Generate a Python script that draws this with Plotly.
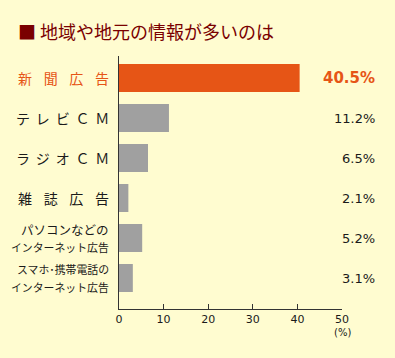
import plotly.graph_objects as go

categories = ["新\u2002\u2004聞\u2002\u2004広\u2002\u2004告",
              "テ\u2005\u2006レ\u2005\u2006ビ\u2005\u2006Ｃ\u2005\u2006Ｍ",
              "ラ\u2005\u2006ジ\u2005\u2006オ\u2005\u2006Ｃ\u2005\u2006Ｍ",
              "雑\u2002\u2004誌\u2002\u2004広\u2002\u2004告",
              "パソコンなどの<br>インターネット広告",
              "スマホ･携帯電話の<br>インターネット広告"]
values = [40.5, 11.2, 6.5, 2.1, 5.2, 3.1]
value_labels = ["40.5%", "11.2%", "6.5%", "2.1%", "5.2%", "3.1%"]
tick_vals = [0, 10, 20, 30, 40, 50]
title_text = "■ 地域や地元の情報が多いのは"

ORANGE = "#E65516"
GRAY = "#A0A0A0"
BG = "#FFFCD0"
FONT = "Noto Sans CJK JP"
NUMFONT = "DejaVu Sans"

ypos = list(range(len(categories)))
colors = [ORANGE] + [GRAY] * (len(categories) - 1)

fig = go.Figure()
fig.add_trace(go.Bar(
    x=values, y=ypos, orientation="h",
    marker=dict(color=colors, line=dict(width=0)),
    width=0.7, hoverinfo="skip",
))

annotations = []
for i, (cat, vl) in enumerate(zip(categories, value_labels)):
    color = ORANGE if i == 0 else "#1a1a1a"
    lines = cat.split("<br>")
    if len(lines) == 1:
        annotations.append(dict(
            x=0, y=i, xref="paper", yref="y", text=cat, showarrow=False,
            xanchor="right", yanchor="middle", xshift=-8,
            font=dict(family=FONT, size=14, color=color),
        ))
    else:
        for j, ln in enumerate(lines):
            annotations.append(dict(
                x=0, y=i, xref="paper", yref="y", text=ln, showarrow=False,
                xanchor="right", yanchor="middle", xshift=-8,
                yshift=9 - 18 * j,
                font=dict(family=FONT, size=min(12.5, 98.0 / len(ln)), color=color),
            ))
    annotations.append(dict(
        x=1, y=i, xref="paper", yref="y", text=("<b>%s</b>" % vl) if i == 0 else vl,
        showarrow=False, xanchor="right", yanchor="middle", xshift=35,
        font=dict(family=NUMFONT, size=15 if i == 0 else 13, color=color),
    ))
annotations.append(dict(
    x=50, y=0, xref="x", yref="paper", text="(%)", showarrow=False,
    xanchor="center", yanchor="top", yshift=-16,
    font=dict(family=NUMFONT, size=10, color="#1a1a1a"),
))
annotations.append(dict(
    x=0, y=1, xref="paper", yref="paper", xanchor="left", yanchor="middle",
    text=title_text, showarrow=False, xshift=-103, yshift=25,
    font=dict(family=FONT, size=18, color="#7A0000"),
))

fig.update_layout(
    width=395, height=358,
    margin=dict(l=119, r=53, t=56, b=49),
    paper_bgcolor=BG, plot_bgcolor=BG,
    showlegend=False,
    annotations=annotations,
    xaxis=dict(range=[0, 50], tickvals=tick_vals, showgrid=False, zeroline=False,
               showline=True, linecolor="#333333", linewidth=1,
               ticks="inside", ticklen=5, tickcolor="#333333",
               tickfont=dict(family=NUMFONT, size=11, color="#1a1a1a")),
    yaxis=dict(range=[5.775, -0.55], showgrid=False, zeroline=False,
               showline=True, linecolor="#333333", linewidth=1,
               showticklabels=False, ticks=""),
)

fig.write_html("out.html", config={"displayModeBar": False},
               post_script="document.body.style.margin='0';document.body.style.background='%s';" % BG)
